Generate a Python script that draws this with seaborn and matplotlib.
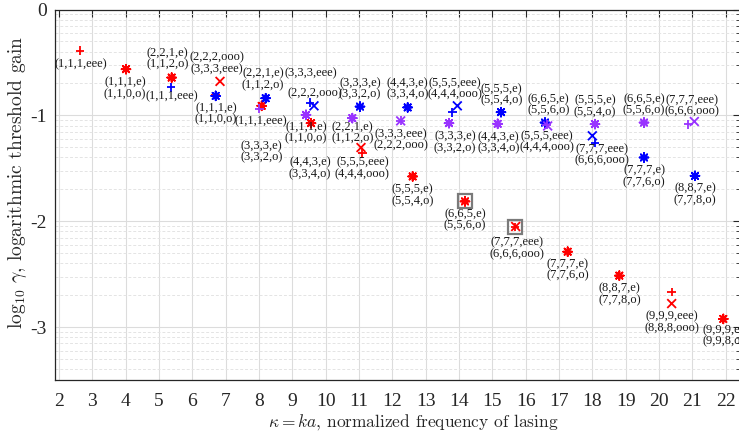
import numpy as np
import pandas as pd
import seaborn as sns
import matplotlib.pyplot as plt

# kappa = ka and log10(gamma) for each lasing mode, one set of lists per series
red_kappa = [2.63, 4.01, 5.38, 6.83, 6.70, 8.08, 9.56, 11.06, 11.10, 12.61,
             14.18, 15.68, 15.70, 17.26, 18.81, 20.38, 20.38, 21.93]
red_gamma = [-0.389, -0.564, -0.643, -0.679, -0.811, -0.910, -1.074, -1.304, -1.351, -1.577,
             -1.813, -2.055, -2.050, -2.288, -2.514, -2.668, -2.778, -2.923]
red_mark = ['+', '*', '*', 'x', '+', '*', '*', 'x', '+', '*',
            '*', '+', 'x', '*', '*', '+', 'x', '*']
red_label = ['(1,1,1,eee)', '(1,1,1,e)\n(1,1,0,o)', '(2,2,1,e)\n(1,1,2,o)',
             '(2,2,2,ooo)\n(3,3,3,eee)', '', '(3,3,3,e)\n(3,3,2,o)', '(4,4,3,e)\n(3,3,4,o)',
             '', '(5,5,5,eee)\n(4,4,4,ooo)', '(5,5,5,e)\n(5,5,4,o)', '(6,6,5,e)\n(5,5,6,o)',
             '(7,7,7,eee)\n(6,6,6,ooo)', '', '(7,7,7,e)\n(7,7,6,o)', '(8,8,7,e)\n(7,7,8,o)',
             '', '(9,9,9,eee)\n(8,8,8,ooo)', '(9,9,9,e)\n(9,9,8,o)']
red_boxed = [10, 11]

blue_kappa = [5.36, 6.70, 8.20, 9.53, 9.65, 11.03, 12.46, 13.80, 13.95, 15.26,
              16.58, 18.00, 18.08, 19.55, 21.08]
blue_gamma = [-0.734, -0.816, -0.838, -0.879, -0.910, -0.917, -0.925, -0.970, -0.910, -0.970,
              -1.068, -1.193, -1.257, -1.398, -1.571]
blue_mark = ['+', '*', '*', '+', 'x', '*', '*', '+', 'x', '*',
             '*', 'x', '+', '*', '*']
blue_label = ['(1,1,1,eee)', '(1,1,1,e)\n(1,1,0,o)', '(2,2,1,e)\n(1,1,2,o)', '(3,3,3,eee)',
              '(2,2,2,ooo)', '(3,3,3,e)\n(3,3,2,o)', '(4,4,3,e)\n(3,3,4,o)',
              '(5,5,5,eee)\n(4,4,4,ooo)', '', '(5,5,5,e)\n(5,5,4,o)', '(6,6,5,e)\n(5,5,6,o)',
              '', '(7,7,7,eee)\n(6,6,6,ooo)', '(7,7,7,e)\n(7,7,6,o)', '(8,8,7,e)\n(7,7,8,o)']

purple_kappa = [8.01, 9.41, 10.80, 12.25, 12.25, 13.70, 15.16, 16.63, 16.66, 18.08,
                19.55, 20.88, 21.06]
purple_gamma = [-0.936, -0.995, -1.026, -1.052, -1.052, -1.074, -1.080, -1.090, -1.100, -1.083,
                -1.068, -1.083, -1.058]
purple_mark = ['+', '*', '*', '+', 'x', '*', '*', '+', 'x', '*', '*', '+', 'x']
purple_label = ['(1,1,1,eee)', '(1,1,1,e)\n(1,1,0,o)', '(2,2,1,e)\n(1,1,2,o)',
                '(3,3,3,eee)\n(2,2,2,ooo)', '', '(3,3,3,e)\n(3,3,2,o)', '(4,4,3,e)\n(3,3,4,o)',
                '(5,5,5,eee)\n(4,4,4,ooo)', '', '(5,5,5,e)\n(5,5,4,o)', '(6,6,5,e)\n(5,5,6,o)',
                '(7,7,7,eee)\n(6,6,6,ooo)', '']

x_ticks = list(range(2, 23))
y_ticks = [0, -1, -2, -3]
y_tick_labels = ['0', '-1', '-2', '-3']

# label placement, pixel offset (right, down) of the text centre from its marker
red_offset = [(1, 14), (-1, 19), (-4, -19), (-3, -18), (0, 0), (0, 46), (-1, 45), (0, 0),
              (0, 15.5), (0, 19), (0, 18.5), (1.5, 21), (0, 0), (0, 18), (0, 18.5), (0, 0),
              (0.5, 18.5), (0, 17)]
blue_offset = [(1, 9.5), (0.5, 18), (-2.5, -19), (1, -29.5), (1, -12.7), (0, -18), (0, -18.5),
               (2.7, -23.3), (0, 0), (0.7, -17.6), (3.3, -17.7), (0, 0), (6.5, 12), (0, 19),
               (0, 18.7)]
purple_offset = [(1, 13), (0, 18), (0, 14.7), (0.5, 19), (0, 0), (6, 19), (0.6, 19), (0, 17),
                 (0, 0), (0, -18), (0, -17.7), (3.4, -18.5), (0, 0)]

colors = {'red': '#ff0000', 'blue': '#0000ff', 'purple': '#9933ff'}

series = {
    'red': (red_kappa, red_gamma, red_mark, red_label, red_offset),
    'blue': (blue_kappa, blue_gamma, blue_mark, blue_label, blue_offset),
    'purple': (purple_kappa, purple_gamma, purple_mark, purple_label, purple_offset),
}

frames = []
for name, (k, g, m, lab, off) in series.items():
    frames.append(pd.DataFrame({'kappa': k, 'gamma': g, 'mark': m, 'label': lab,
                                'dx': [o[0] for o in off], 'dy': [o[1] for o in off],
                                'series': name}))
df = pd.concat(frames, ignore_index=True)

sns.set_theme(style='white')
plt.rcParams['font.family'] = ['Liberation Serif', 'DejaVu Serif']
plt.rcParams['mathtext.fontset'] = 'cm'
plt.rcParams['axes.unicode_minus'] = False

fig = plt.figure(figsize=(7.39, 4.33), dpi=100)
ax = fig.add_axes([55 / 739, 1 - 380 / 433, (740 - 55) / 739, (380 - 9.5) / 433])

# MATLAB-like asterisk is an 8 armed star
sns.scatterplot(data=df, x='kappa', y='gamma', hue='series', style='mark',
                palette=colors, markers={'+': '+', 'x': 'x', '*': (8, 2, 0)},
                s=40, linewidth=1.3, legend=False, ax=ax, zorder=3)

red_df = df[df['series'] == 'red'].reset_index(drop=True)
ax.plot(red_df.loc[red_boxed, 'kappa'], red_df.loc[red_boxed, 'gamma'], ls='none',
        marker='s', ms=10.5, mfc='none', mec='#7a7a7a', mew=1.6, zorder=2)

for _, row in df.iterrows():
    if row['label']:
        ax.annotate(row['label'], (row['kappa'], row['gamma']),
                    xytext=(row['dx'], -row['dy']), textcoords='offset pixels',
                    ha='center', va='center', fontsize=9, linespacing=0.95,
                    color='#1a1a1a', zorder=4)

ax.set_xlim(1.88, 22.43)
ax.set_ylim(-3.5, 0)
ax.set_xticks(x_ticks)
ax.set_xticklabels([str(t) for t in x_ticks])
ax.set_yticks(y_ticks)
ax.set_yticklabels(y_tick_labels)
minor = [d + np.log10(k) for d in range(-4, 0) for k in range(2, 10)]
ax.set_yticks([m for m in minor if -3.5 <= m <= 0], minor=True)

ax.grid(True, which='major', color='#dcdcdc', lw=0.8)
ax.grid(True, which='minor', axis='y', color='#e4e4e4', lw=0.7, ls=(0, (3, 2)))
ax.set_axisbelow(True)
ax.tick_params(which='both', direction='in', top=True, right=True, colors='#262626',
               labelsize=14, labelcolor='#262626')
ax.tick_params(which='major', length=5, width=0.8)
ax.tick_params(axis='x', which='major', pad=9)
ax.tick_params(axis='y', which='major', pad=6)
ax.tick_params(which='minor', length=3, width=0.6)
for sp in ax.spines.values():
    sp.set_color('#262626')
    sp.set_linewidth(0.9)

ax.set_xlabel(r'$\kappa = ka$, normalized frequency of lasing', fontsize=12.5,
              fontfamily='cmr10', color='#262626')
ax.set_ylabel(r'$\log_{10}\,\gamma$, logarithmic threshold gain', fontsize=14,
              fontfamily='cmr10', color='#262626')
ax.xaxis.set_label_coords(0.523, -0.086)
ax.yaxis.set_label_coords(-0.038, 0.534)

fig.savefig('out.png', dpi=100)
